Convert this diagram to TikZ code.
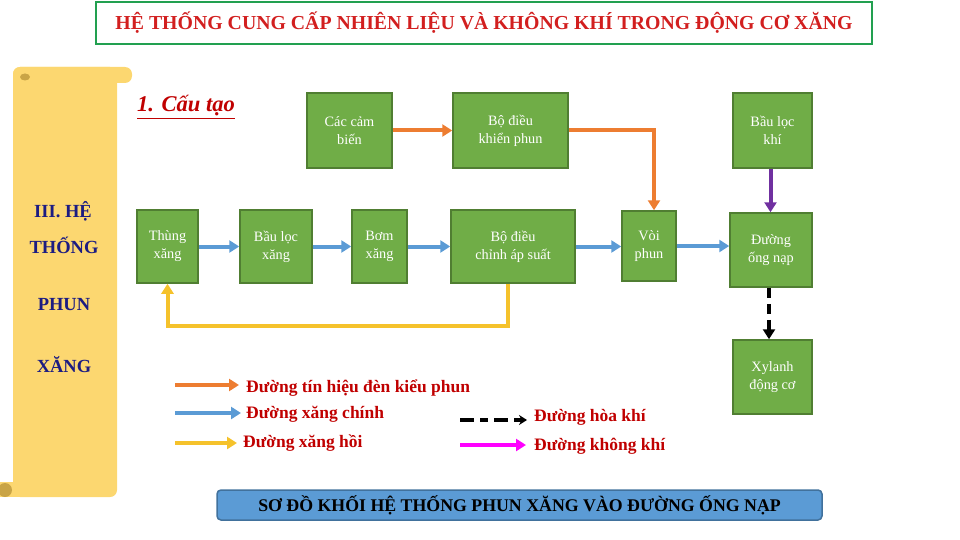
\documentclass[tikz,border=0pt]{standalone}
\usepackage{fontspec}
\setmainfont{Liberation Serif}
\usetikzlibrary{arrows.meta}

\definecolor{boxgreen}{HTML}{70AD47}
\definecolor{boxedge}{HTML}{507E32}
\definecolor{sigorange}{HTML}{ED7D31}
\definecolor{fuelblue}{HTML}{5B9BD5}
\definecolor{backyellow}{HTML}{F5C22B}
\definecolor{airpurple}{HTML}{7030A0}
\definecolor{airpink}{HTML}{FF00FF}
\definecolor{titlered}{HTML}{D21F1F}
\definecolor{legred}{HTML}{C00000}
\definecolor{titlegreen}{HTML}{22A050}
\definecolor{scrollyellow}{HTML}{FCD770}
\definecolor{scrollcurl}{HTML}{C9A446}
\definecolor{navy}{HTML}{1C1C82}
\definecolor{banneredge}{HTML}{41719C}

\begin{document}
\begin{tikzpicture}[
    x=1pt, y=-1pt,
    block/.style={draw=boxedge, fill=boxgreen, line width=1.5pt, text=white,
        align=center, inner sep=0pt, font=\fontsize{14.3}{18}\selectfont},
    flow/.style={line width=4pt, -{Triangle[length=10pt,width=12pt]}},
    mix/.style={flow, black, dash pattern=on 10pt off 6pt},
    legtext/.style={anchor=west, inner sep=2pt, text=legred,
        font=\fontsize{17.5}{20}\selectfont\bfseries},
    scrolltext/.style={text=navy, font=\fontsize{18.5}{20}\selectfont\bfseries},
]
\useasboundingbox (0,0) rectangle (960,540);

% === Title ===
\node[draw=titlegreen, line width=2.2pt, minimum width=776, minimum height=42,
      text=titlered, font=\fontsize{19.8}{22}\selectfont\bfseries] (title) at (484,23)
    {HỆ THỐNG CUNG CẤP NHIÊN LIỆU VÀ KHÔNG KHÍ TRONG ĐỘNG CƠ XĂNG};

% === Scroll ===
\fill[scrollyellow, rounded corners=7pt] (13,67) rectangle (117,497);
\fill[scrollyellow, rounded corners=7pt] (13,67) rectangle (132,83);
\fill[scrollyellow] (0,482) rectangle (20,497);
\fill[scrollcurl] (25,77) ellipse (5 and 3.5);
\fill[scrollcurl] (5,490) circle (7);
\node[scrolltext] (s1) at (63,211) {III. HỆ};
\node[scrolltext] (s2) at (64,245) {THỐNG};
\node[scrolltext] (s3) at (64,305) {PHUN};
\node[scrolltext] (s4) at (64,365) {XĂNG};

\node[text=legred, font=\fontsize{22.5}{24}\selectfont\bfseries\itshape] (cautao) at (186,107)
    {\underline{1. Cấu tạo}};

% === Blocks ===
\node[block, minimum width=85, minimum height=75] (cambien) at (349.5,130.5) {Các cảm\\biến};
\node[block, minimum width=115, minimum height=75] (bdk) at (510.5,130.5) {Bộ điều\\khiển phun};
\node[block, minimum width=79, minimum height=75] (lockhi) at (772.5,130.5) {Bầu lọc\\khí};
\node[block, minimum width=61, minimum height=73] (thung) at (167.5,246.5) {Thùng\\xăng};
\node[block, minimum width=72, minimum height=73] (locxang) at (276,246.5) {Bầu lọc\\xăng};
\node[block, minimum width=55, minimum height=73] (bom) at (379.5,246.5) {Bơm\\xăng};
\node[block, minimum width=124, minimum height=73] (bdc) at (513,246.5) {Bộ điều\\chỉnh áp suất};
\node[block, minimum width=54, minimum height=70] (voi) at (649,246) {Vòi\\phun};
\node[block, minimum width=82, minimum height=74] (ongnap) at (771,250) {Đường\\ống nạp};
\node[block, minimum width=79, minimum height=74] (xylanh) at (772.5,377) {Xylanh\\động cơ};

% === Connectors ===
\draw[flow, sigorange] (cambien) -- (bdk);
\draw[flow, sigorange] (bdk) -| ([xshift=5pt]voi.north);
\draw[flow, fuelblue] (thung) -- (locxang);
\draw[flow, fuelblue] (locxang) -- (bom);
\draw[flow, fuelblue] (bom) -- (bdc);
\draw[flow, fuelblue] (bdc.east) -- (bdc.east -| voi.west);
\draw[flow, fuelblue] (voi.east) -- (voi.east -| ongnap.west);
\draw[flow, airpurple] ([xshift=-2pt]lockhi.south) -- ([xshift=-2pt]lockhi.south |- ongnap.north);
\draw[mix] ([xshift=-2pt]ongnap.south) -- ([xshift=-2pt]ongnap.south |- xylanh.north);
\draw[flow, backyellow] ([xshift=-5pt]bdc.south) -- ++(0,42) -| (thung.south);

% === Legend ===
\node[legtext] (l1) at (244,388) {Đường tín hiệu đèn kiểu phun};
\node[legtext] (l2) at (244,414) {Đường xăng chính};
\node[legtext] (l3) at (241,443) {Đường xăng hồi};
\node[legtext] (l4) at (532,417) {Đường hòa khí};
\node[legtext] (l5) at (532,446) {Đường không khí};
\coordinate (l1s) at (175,385);
\coordinate (l2s) at (175,413);
\coordinate (l3s) at (175,443);
\coordinate (l4s) at (460,420);
\coordinate (l5s) at (460,445);
\draw[flow, sigorange, shorten >=5pt] (l1s) -- (l1s -| l1.west);
\draw[flow, fuelblue, shorten >=3pt] (l2s) -- (l2s -| l2.west);
\draw[flow, backyellow, shorten >=4pt] (l3s) -- (l3s -| l3.west);
\draw[mix, dash pattern=on 14pt off 6pt on 8pt off 6pt, -{Stealth[length=8pt,width=10pt]}]
    (l4s) -- ([xshift=-5pt]l4s -| l4.west);
\draw[flow, airpink] (l5s) -- ([xshift=-6pt]l5s -| l5.west);

% === Caption banner ===
\node[draw=banneredge, fill=fuelblue, line width=1.5pt, rounded corners=4pt,
      minimum width=605, minimum height=30, font=\fontsize{17.8}{20}\selectfont\bfseries] (banner)
    at (519.5,505) {SƠ ĐỒ KHỐI HỆ THỐNG PHUN XĂNG VÀO ĐƯỜNG ỐNG NẠP};

\end{tikzpicture}
\end{document}
